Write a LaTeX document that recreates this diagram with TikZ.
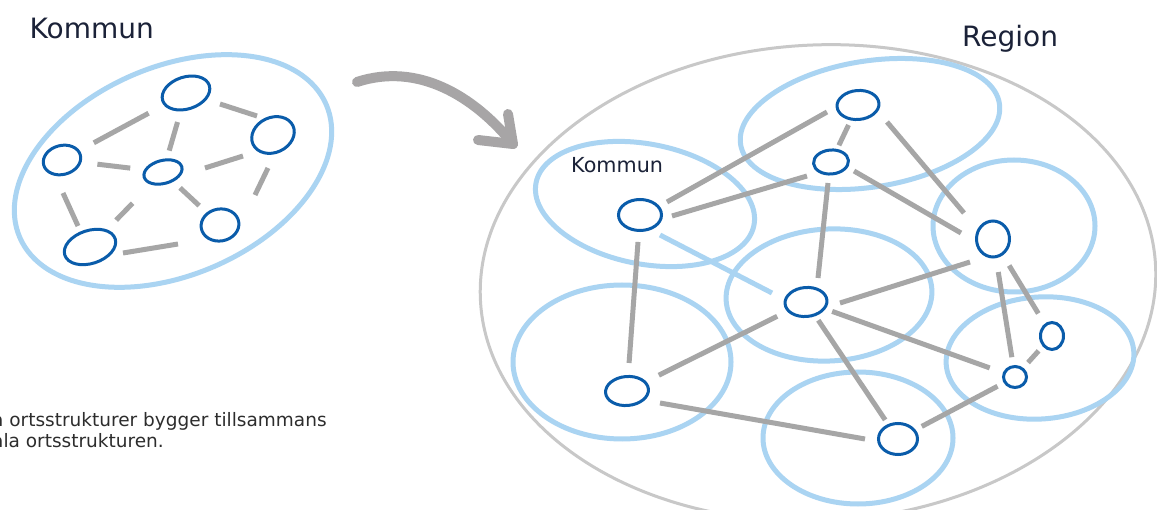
\documentclass[tikz,border=0pt]{standalone}
\usepackage{fontspec}
\setmainfont{DejaVu Sans}
\usetikzlibrary{shapes.geometric,calc}
\definecolor{lblue}{RGB}{170,212,242}
\definecolor{dblue}{RGB}{10,92,170}
\definecolor{lgray}{RGB}{166,166,166}
\definecolor{egray}{RGB}{200,200,200}
\definecolor{agray}{RGB}{167,165,166}
\definecolor{navy}{RGB}{27,34,56}
\definecolor{txtgray}{RGB}{45,45,45}
\tikzset{
  region/.style={shape=ellipse, draw=lblue, line width=5pt, inner sep=0pt, outer sep=0pt},
  outer/.style={shape=ellipse, draw=egray, line width=3pt, inner sep=0pt, outer sep=0pt},
  place/.style={shape=ellipse, draw=dblue, line width=3pt, inner sep=0pt},
  link/.style={draw=lgray, line width=5pt},
  bluelink/.style={draw=lblue, line width=5pt},
  bigarrow/.style={draw=agray, line width=10pt, line cap=round, line join=round},
  title/.style={font=\fontsize{28}{34}\selectfont, text=navy, inner sep=0pt, anchor=base west},
  subtitle/.style={font=\fontsize{20.7}{25}\selectfont, text=navy, inner sep=0pt, anchor=base west},
  body/.style={font=\fontsize{18.5}{22}\selectfont, text=txtgray, inner sep=0pt, anchor=base west}
}
\begin{document}
\begin{tikzpicture}[x=1pt,y=-1pt]
\useasboundingbox (0,0) rectangle (1157,510);
\clip (0,0) rectangle (1157,510);
\fill[white] (0,0) rectangle (1157,510);

% ---------- left: Kommun ----------
\node[title] (tK) at (29.5,39) {Kommun};
\node[region, minimum width=334pt, minimum height=208pt, rotate=23.5] (bigK) at (173,171) {};

\node[place, minimum width=49pt, minimum height=32pt, rotate=18] (L1) at (186,93) {};
\node[place, minimum width=44pt, minimum height=35pt, rotate=25] (L2) at (273,135) {};
\node[place, minimum width=38pt, minimum height=29pt, rotate=15] (L3) at (62,160) {};
\node[place, minimum width=39pt, minimum height=23pt, rotate=15] (L4) at (163,172) {};
\node[place, minimum width=38pt, minimum height=32pt, rotate=10] (L5) at (220,225) {};
\node[place, minimum width=53pt, minimum height=33pt, rotate=18] (L6) at (90,247) {};

\draw[link, shorten <=16pt, shorten >=17pt] (L3) -- (L1);
\draw[link, shorten <=11pt, shorten >=8pt] (L1) -- (L4);
\draw[link] ($(L1)+(34,11)$) -- ($(L2)+(-16,-19)$);
\draw[link, shorten <=16pt, shorten >=14pt] (L3) -- (L4);
\draw[link] ($(L4)+(42,-4)$) -- ($(L2)+(-30,21)$);
\draw[link] ($(L2)+(-5,33)$) -- ($(L5)+(35,-30)$);
\draw[link, shorten <=9pt, shorten >=10pt] (L4) -- (L5);
\draw[link] ($(L3)+(1,33)$) -- ($(L6)+(-12,-21)$);
\draw[link, shorten <=26pt, shorten >=13pt] (L4) -- (L6);
\draw[link] ($(L6)+(33,6)$) -- ($(L5)+(-42,19)$);

% ---------- arrow ----------
\coordinate (aS) at (357,82);
\coordinate (aT) at (513,144);
\draw[bigarrow] (aS) .. controls (418,62) and (474,96) .. (aT);
\draw[bigarrow] ($(aT)+(-5,-30)$) -- (aT) -- ($(aT)+(-35,-4)$);

% ---------- bottom text ----------
\node[body] (t1) at (-8,427) {a ortsstrukturer bygger tillsammans};
\node[body] (t2) at (-8,448) {ala ortsstrukturen.};

% ---------- right: Region ----------
\node[title] (tR) at (962,47) {Region};
\node[outer, minimum width=676pt, minimum height=476pt, rotate=3] (reg) at (818,283) {};

\node[region, minimum width=262pt, minimum height=126pt, rotate=9] (rA) at (870,124) {};
\node[region, minimum width=222pt, minimum height=120pt, rotate=-11] (rB) at (645,204) {};
\node[region, minimum width=162pt, minimum height=132pt] (rC) at (1014,226) {};
\node[region, minimum width=206pt, minimum height=132pt, rotate=3] (rD) at (829,295) {};
\node[region, minimum width=218pt, minimum height=154pt] (rE) at (622,362) {};
\node[region, minimum width=188pt, minimum height=122pt, rotate=4] (rF) at (1040,358) {};
\node[region, minimum width=190pt, minimum height=132pt] (rG) at (858,438) {};

\node[subtitle] (tKs) at (571,173) {Kommun};

\node[place, minimum width=42pt, minimum height=29pt, rotate=5] (n1) at (858,105) {};
\node[place, minimum width=35pt, minimum height=24pt, rotate=5] (n2) at (831,162) {};
\node[place, minimum width=43pt, minimum height=31pt] (n3) at (640,215) {};
\node[place, minimum width=33pt, minimum height=36pt] (n4) at (993,239) {};
\node[place, minimum width=42pt, minimum height=29pt, rotate=5] (n5) at (806,302) {};
\node[place, minimum width=23pt, minimum height=27pt] (n6) at (1052,336) {};
\node[place, minimum width=23pt, minimum height=21pt] (n7) at (1015,377) {};
\node[place, minimum width=43pt, minimum height=29pt, rotate=5] (n8) at (627,391) {};
\node[place, minimum width=39pt, minimum height=31pt] (n9) at (898,439) {};

\draw[link] ($(n3)+(27,-13)$) -- ($(n1)+(-31,7)$);
\draw[link] ($(n3)+(32,1)$) -- ($(n2)+(-24,14)$);
\draw[link, shorten <=5pt, shorten >=4pt] (n1) -- (n2);
\draw[link] ($(n1)+(29,17)$) -- ($(n4)+(-29,-26)$);
\draw[link] ($(n2)+(23,9)$) -- ($(n4)+(-32,-6)$);
\draw[link] ($(n2)+(-3,21)$) -- ($(n5)+(12,-24)$);
\draw[bluelink] ($(n3)+(20,20)$) -- ($(n5)+(-34,-9)$);
\draw[link, shorten <=10pt, shorten >=12pt] (n3) -- (n8);
\draw[link] ($(n5)+(34,1)$) -- ($(n4)+(-23,23)$);
\draw[link, shorten <=11pt, shorten >=14pt] (n5) -- (n8);
\draw[link, shorten <=7pt, shorten >=14pt] (n5) -- (n7);
\draw[link, shorten <=5pt, shorten >=5pt] (n5) -- (n9);
\draw[link] ($(n8)+(33,12)$) -- ($(n9)+(-33,0)$);
\draw[link, shorten <=7pt, shorten >=7pt] (n9) -- (n7);
\draw[link, shorten <=14pt, shorten >=8pt] (n4) -- (n7);
\draw[link, shorten <=12pt, shorten >=12pt] (n4) -- (n6);
\draw[link, shorten <=6pt, shorten >=7pt] (n6) -- (n7);
\end{tikzpicture}
\end{document}
